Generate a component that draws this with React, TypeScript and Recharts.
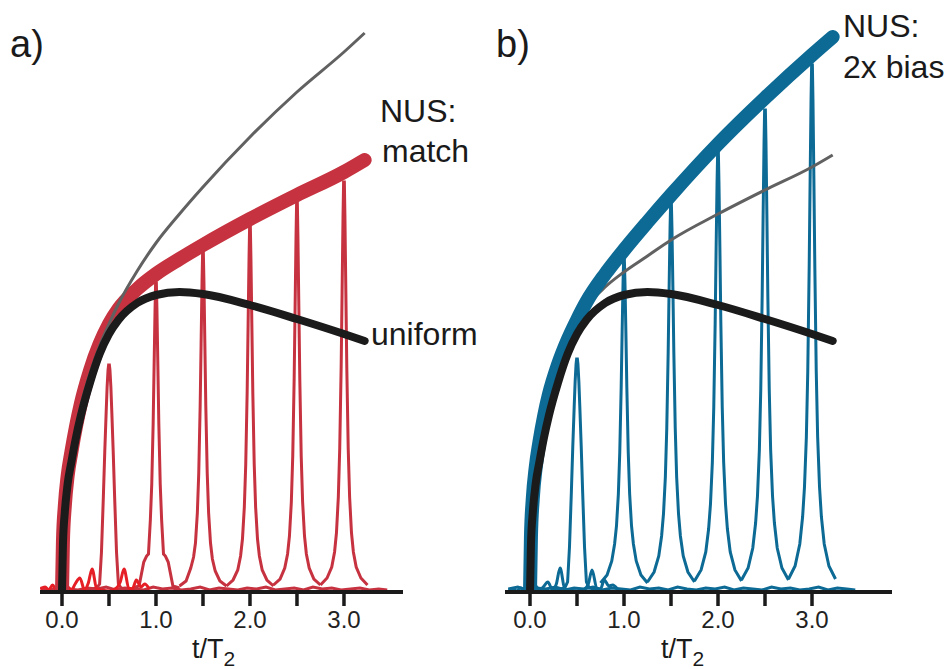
import React from "react";
import { LineChart, Line, XAxis, YAxis } from "recharts";

// t/T2 grid shared by the smooth sensitivity curves
const CURVE_T = [0, 0.01, 0.03, 0.06, 0.1, 0.15, 0.2, 0.3, 0.4, 0.5, 0.6, 0.8, 1.0, 1.25, 1.5, 2.0, 2.5, 3.0, 3.22];
const UNIFORM = [0, 47, 80, 108, 130, 155, 176, 210, 238, 258, 272, 289, 297, 300, 298, 287, 273, 258, 251];
const MATCH_A = [0, 50, 86, 116, 140, 166, 188, 222, 248, 268, 283, 303, 318, 333, 347, 373, 397, 420, 432];
const GRAY_A = [0, 48, 84, 114, 138, 164, 186, 219, 246, 268, 288, 321, 349, 378, 405, 455, 500, 540, 559];
const BIAS_B = [0, 55, 94, 124, 150, 176, 197, 228, 252, 272, 290, 318, 342, 370, 397, 448, 494, 537, 555];
const GRAY_B = [0, 48, 85, 115, 142, 168, 188, 222, 250, 270, 285, 305, 320, 336, 352, 378, 402, 425, 437];

// spectra: peak centres and the trace around each centre
const PEAK_CENTERS = [0.5, 1.0, 1.5, 2.0, 2.5, 3.0];
const PEAK_OFFSETS = [-0.25, -0.18, -0.13, -0.1, -0.08, -0.06, -0.045, -0.03, -0.02, -0.01, -0.004, 0.004, 0.01, 0.02, 0.03, 0.045, 0.06, 0.08, 0.1, 0.13, 0.18, 0.25];
const PEAKS_A = [
  [2, 3, 4, 8, 40, 95, 140, 180, 205, 222, 227, 227, 222, 205, 180, 140, 95, 40, 8, 4, 3, 2],
  [4, 6, 30, 36, 38, 72, 108, 169, 226, 283, 309, 309, 283, 226, 169, 108, 72, 38, 36, 30, 6, 4],
  [6, 11, 24, 35, 49, 79, 119, 186, 248, 311, 339, 339, 311, 248, 186, 119, 79, 49, 33, 21, 11, 6],
  [6, 12, 22, 36, 53, 85, 128, 200, 267, 334, 365, 365, 334, 267, 200, 128, 85, 53, 36, 22, 12, 6],
  [7, 13, 24, 38, 56, 90, 136, 213, 284, 356, 389, 389, 356, 284, 213, 136, 90, 56, 38, 24, 13, 7],
  [7, 14, 25, 40, 59, 95, 144, 225, 300, 376, 410, 410, 376, 300, 225, 144, 95, 59, 40, 25, 14, 7],
];
const PEAKS_B = [
  [2, 3, 4, 10, 45, 100, 145, 185, 210, 228, 233, 233, 228, 210, 185, 145, 100, 45, 10, 4, 3, 2],
  [9, 17, 31, 48, 66, 98, 140, 205, 260, 310, 332, 332, 310, 260, 205, 140, 98, 66, 48, 31, 17, 9],
  [10, 20, 36, 56, 78, 115, 164, 240, 305, 364, 389, 389, 364, 305, 240, 164, 115, 78, 56, 36, 20, 10],
  [11, 22, 40, 63, 88, 130, 185, 270, 344, 410, 439, 439, 410, 344, 270, 185, 130, 88, 63, 40, 22, 11],
  [12, 24, 44, 69, 96, 142, 203, 297, 377, 451, 482, 482, 451, 377, 297, 203, 142, 96, 69, 44, 24, 12],
  [13, 26, 48, 75, 105, 155, 221, 325, 413, 493, 527, 527, 493, 413, 325, 221, 155, 105, 75, 48, 26, 13],
];

// sinc ringing near the start
const RING_T = [-0.23, -0.18, -0.14, -0.1, -0.06, -0.02, 0.02, 0.06, 0.1, 0.14, 0.19, 0.24, 0.28, 0.32, 0.37, 0.42, 0.5, 0.58, 0.62, 0.66, 0.71, 0.75, 0.79, 0.84, 0.88, 0.93];
const RING_A = [3, 5, 2, 7, 2, 4, 1, 5, 2, 8, 14, 2, 9, 23, 3, 2, 1, 4, 10, 23, 4, 3, 12, 5, 8, 3];
const RING_B = [2, 3, 1, 4, 2, 3, 1, 6, 2, 5, 10, 2, 8, 24, 3, 2, 1, 3, 8, 22, 4, 3, 12, 6, 7, 3];

// baseline noise
const NOISE_T = [-0.23, -0.13, -0.03, 0.07, 0.17, 0.27, 0.37, 0.47, 0.57, 0.67, 0.77, 0.87, 0.97, 1.07, 1.17, 1.27, 1.37, 1.47, 1.57, 1.67, 1.77, 1.87, 1.97, 2.07, 2.17, 2.27, 2.37, 2.47, 2.57, 2.67, 2.77, 2.87, 2.97, 3.07, 3.17, 3.27, 3.37, 3.46];
const NOISE_A = [4, 2, 5, 3, 2, 4, 3, 5, 2, 4, 3, 2, 5, 3, 4, 2, 3, 5, 2, 4, 3, 2, 4, 3, 5, 2, 3, 4, 2, 5, 3, 4, 2, 3, 4, 2, 3, 2];
const NOISE_B = [3, 5, 2, 4, 3, 5, 2, 4, 3, 5, 2, 4, 3, 2, 5, 3, 4, 2, 5, 3, 2, 4, 3, 5, 2, 4, 3, 2, 5, 3, 4, 2, 3, 5, 2, 4, 3, 2];

const X_TICKS = [0, 0.5, 1.0, 1.5, 2.0, 2.5, 3.0];

const FONT = '"Liberation Sans", Arial, Helvetica, sans-serif';
const RED = "#c6323f";
const BRIGHT_RED = "#e61e26";
const BLUE = "#0c6a95";
const GRAY = "#616161";
const BLACK = "#1b1b1b";

const pts = (xs: number[], ys: number[]) => xs.map((x, i) => ({ x, y: ys[i] }));
const peakPts = (center: number, ys: number[]) => PEAK_OFFSETS.map((o, i) => ({ x: center + o, y: ys[i] }));

// tick mark hanging below the axis at every half unit, label on whole units only
function AxisTick(props: any) {
  const { x, y, payload } = props;
  const v = Number(payload.value);
  return (
    <g>
      <rect x={x - 1.75} y={y} width={3.5} height={14} fill={BLACK} />
      {Number.isInteger(v) && (
        <text x={x} y={y + 36} textAnchor="middle" fill="#222" fontSize={24} fontFamily={FONT}>
          {v.toFixed(1)}
        </text>
      )}
    </g>
  );
}

type PanelProps = {
  left: number;
  width: number;
  marginLeft: number;
  marginRight: number;
  domain: [number, number];
  color: string;
  ringColor: string;
  peaks: number[][];
  ring: number[];
  noise: number[];
  thick: number[];
  gray: number[];
  grayOnTop: boolean;
};

function Panel(p: PanelProps) {
  const thickLine = (
    <Line
      data={pts(CURVE_T, p.thick)}
      dataKey="y"
      type="monotone"
      stroke={p.color}
      strokeWidth={14}
      strokeLinecap="round"
      dot={false}
      isAnimationActive={false}
    />
  );
  const grayLine = (
    <Line
      data={pts(CURVE_T, p.gray)}
      dataKey="y"
      type="monotone"
      stroke={GRAY}
      strokeWidth={3}
      dot={false}
      isAnimationActive={false}
    />
  );
  return (
    <div style={{ position: "absolute", left: p.left, top: 0 }}>
      <LineChart
        width={p.width}
        height={669}
        margin={{ top: 20, left: p.marginLeft, right: p.marginRight, bottom: 17 }}
      >
        <XAxis
          dataKey="x"
          type="number"
          domain={p.domain}
          allowDataOverflow
          ticks={X_TICKS}
          interval={0}
          height={60}
          axisLine={{ stroke: BLACK, strokeWidth: 4 }}
          tickLine={false}
          tickSize={0}
          tickMargin={0}
          tick={<AxisTick />}
        />
        <YAxis hide type="number" domain={[0, 572]} allowDataOverflow />
        {p.peaks.map((ys, i) => (
          <Line
            key={"pk" + i}
            data={peakPts(PEAK_CENTERS[i], ys)}
            dataKey="y"
            type="linear"
            stroke={p.color}
            strokeWidth={3}
            dot={false}
            isAnimationActive={false}
          />
        ))}
        <Line
          data={pts(NOISE_T, p.noise)}
          dataKey="y"
          type="linear"
          stroke={p.color}
          strokeWidth={3}
          dot={false}
          isAnimationActive={false}
        />
        <Line
          data={pts(RING_T, p.ring)}
          dataKey="y"
          type="monotone"
          stroke={p.ringColor}
          strokeWidth={3}
          dot={false}
          isAnimationActive={false}
        />
        {p.grayOnTop ? thickLine : grayLine}
        {p.grayOnTop ? grayLine : thickLine}
        <Line
          data={pts(CURVE_T, UNIFORM)}
          dataKey="y"
          type="monotone"
          stroke={BLACK}
          strokeWidth={8}
          strokeLinecap="round"
          dot={false}
          isAnimationActive={false}
        />
      </LineChart>
    </div>
  );
}

export default function App() {
  const txt = { fontFamily: FONT, fill: "#1a1a1a" };
  return (
    <div style={{ position: "absolute", left: 0, top: 0, width: 950, height: 669, background: "#fff", overflow: "hidden" }}>
      <Panel
        left={0}
        width={470}
        marginLeft={40}
        marginRight={67}
        domain={[-0.234, 3.628]}
        color={RED}
        ringColor={BRIGHT_RED}
        peaks={PEAKS_A}
        ring={RING_A}
        noise={NOISE_A}
        thick={MATCH_A}
        gray={GRAY_A}
        grayOnTop={true}
      />
      <Panel
        left={470}
        width={480}
        marginLeft={35}
        marginRight={58}
        domain={[-0.266, 3.851]}
        color={BLUE}
        ringColor={BLUE}
        peaks={PEAKS_B}
        ring={RING_B}
        noise={NOISE_B}
        thick={BIAS_B}
        gray={GRAY_B}
        grayOnTop={false}
      />
      <svg width={950} height={669} style={{ position: "absolute", left: 0, top: 0, pointerEvents: "none" }}>
        <text x={10} y={57} fontSize={38} {...txt}>a)</text>
        <text x={496} y={57} fontSize={38} {...txt}>b)</text>
        <text x={380} y={122} fontSize={32} {...txt}>NUS:</text>
        <text x={382} y={162} fontSize={32} {...txt}>match</text>
        <text x={371} y={345} fontSize={32} {...txt}>uniform</text>
        <text x={843} y={37} fontSize={32} {...txt}>NUS:</text>
        <text x={843} y={78} fontSize={32} {...txt}>2x bias</text>
        <text x={192} y={658} fontSize={27} {...txt}>
          t/T<tspan fontSize={21} dy={8}>2</tspan>
        </text>
        <text x={661} y={658} fontSize={27} {...txt}>
          t/T<tspan fontSize={21} dy={8}>2</tspan>
        </text>
      </svg>
    </div>
  );
}
